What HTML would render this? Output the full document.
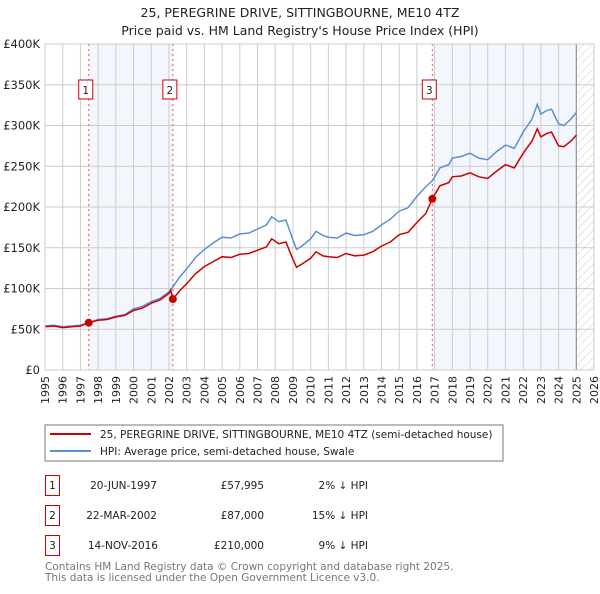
<!DOCTYPE html>
<html><head><meta charset="utf-8"><style>
body{margin:0;background:#fff;font-family:"DejaVu Sans","Liberation Sans",sans-serif;}
svg text{font-family:"DejaVu Sans","Liberation Sans",sans-serif;}
</style></head><body>
<svg width="600" height="590" viewBox="0 0 600 590" id="svg">
<defs><pattern id="hatch" width="6" height="6" patternUnits="userSpaceOnUse" patternTransform="rotate(45)"><line x1="0" y1="0" x2="0" y2="6" stroke="#ccc" stroke-width="1"/></pattern></defs>
<text x="300" y="17" text-anchor="middle" font-size="12.5" fill="#222">25, PEREGRINE DRIVE, SITTINGBOURNE, ME10 4TZ</text>
<text x="300" y="35" text-anchor="middle" font-size="12.5" fill="#222">Price paid vs. HM Land Registry's House Price Index (HPI)</text>
<g id="plot"></g>
<rect x="45" y="425" width="458" height="36" fill="#fff" stroke="#777"/>
<line x1="50" y1="434" x2="91" y2="434" stroke="#cc0000" stroke-width="2"/>
<text x="100" y="438" font-size="10.5" fill="#222">25, PEREGRINE DRIVE, SITTINGBOURNE, ME10 4TZ (semi-detached house)</text>
<line x1="50" y1="451" x2="91" y2="451" stroke="#5b8fd4" stroke-width="2"/>
<text x="100" y="455" font-size="10.5" fill="#222">HPI: Average price, semi-detached house, Swale</text>
<g font-size="10.5" fill="#222">
<rect x="45.5" y="475.5" width="14" height="20" fill="none" stroke="#cc0000"/><text x="52.5" y="489" text-anchor="middle">1</text>
<text x="157" y="489" text-anchor="end">20-JUN-1997</text><text x="264" y="489" text-anchor="end">£57,995</text><text x="368" y="489" text-anchor="end">2% ↓ HPI</text>
<rect x="45.5" y="505.5" width="14" height="20" fill="none" stroke="#cc0000"/><text x="52.5" y="519" text-anchor="middle">2</text>
<text x="157" y="519" text-anchor="end">22-MAR-2002</text><text x="264" y="519" text-anchor="end">£87,000</text><text x="368" y="519" text-anchor="end">15% ↓ HPI</text>
<rect x="45.5" y="535.5" width="14" height="20" fill="none" stroke="#cc0000"/><text x="52.5" y="549" text-anchor="middle">3</text>
<text x="158" y="549" text-anchor="end">14-NOV-2016</text><text x="264" y="549" text-anchor="end">£210,000</text><text x="368" y="549" text-anchor="end">9% ↓ HPI</text>
</g>
<text x="45" y="570" font-size="10.5" fill="#777">Contains HM Land Registry data © Crown copyright and database right 2025.</text>
<text x="45" y="581" font-size="10.5" fill="#777">This data is licensed under the Open Government Licence v3.0.</text>
</svg>
<script>
const yTicks=[0,50,100,150,200,250,300,350,400];
const yLabels=["£0","£50K","£100K","£150K","£200K","£250K","£300K","£350K","£400K"];
const years=[1995,1996,1997,1998,1999,2000,2001,2002,2003,2004,2005,2006,2007,2008,2009,2010,2011,2012,2013,2014,2015,2016,2017,2018,2019,2020,2021,2022,2023,2024,2025,2026];
const hpiT=[1995,1995.5,1996,1996.5,1997,1997.47,1998,1998.5,1999,1999.5,2000,2000.5,2001,2001.5,2002,2002.22,2002.6,2003,2003.5,2004,2004.5,2005,2005.5,2006,2006.5,2007,2007.5,2007.8,2008.2,2008.6,2009,2009.2,2009.5,2010,2010.3,2010.7,2011,2011.5,2012,2012.5,2013,2013.5,2014,2014.5,2015,2015.5,2016,2016.5,2016.87,2017.3,2017.8,2018,2018.5,2019,2019.5,2020,2020.5,2021,2021.5,2022,2022.5,2022.8,2023,2023.3,2023.6,2024,2024.3,2024.7,2025];
const hpiV=[54,55,53,54,55,58,62,63,66,68,75,78,84,88,96,102,114,124,138,148,156,163,162,167,168,173,178,188,182,184,160,148,152,161,170,165,163,162,168,165,166,170,178,185,195,199,213,225,232,248,252,260,262,266,260,258,268,276,272,292,308,326,314,318,320,302,300,308,316];
const priceT=[1995,1995.5,1996,1996.5,1997,1997.47,1998,1998.5,1999,1999.5,2000,2000.5,2001,2001.5,2002,2002.1,2002.22,2002.6,2003,2003.5,2004,2004.5,2005,2005.5,2006,2006.5,2007,2007.5,2007.8,2008.2,2008.6,2009,2009.2,2009.5,2010,2010.3,2010.7,2011,2011.5,2012,2012.5,2013,2013.5,2014,2014.5,2015,2015.5,2016,2016.5,2016.87,2017.3,2017.8,2018,2018.5,2019,2019.5,2020,2020.5,2021,2021.5,2022,2022.5,2022.8,2023,2023.3,2023.6,2024,2024.3,2024.7,2025];
const priceV=[53,54,52,53,54,58,61,62,65,67,73,76,82,86,94,98,87,97,106,118,127,133,139,138,142,143,147,151,161,155,157,136,126,130,137,145,140,139,138,143,140,141,145,152,157,166,169,181,192,210,226,230,237,238,242,237,235,244,252,248,266,281,296,286,290,292,275,274,281,288];
const sales=[{t:1997.47,v:57.995,n:"1"},{t:2002.22,v:87,n:"2"},{t:2016.87,v:210,n:"3"}];
const X0=45,X1=594,Y0=370,Y1=44;
const xs=t=>X0+(t-1995)*(X1-X0)/31;
const ys=v=>Y0-v*(Y0-Y1)/400;
const NS="http://www.w3.org/2000/svg";
const g=document.getElementById('plot');
function mk(tag,attrs,parent){const e=document.createElementNS(NS,tag);for(const k in attrs)e.setAttribute(k,attrs[k]);(parent||g).appendChild(e);return e;}
let e;
e=mk('rect',{x:xs(1997.47),y:Y1,width:xs(2002.22)-xs(1997.47),height:Y0-Y1,fill:'#eef2fc',opacity:0.7});


e=mk('rect',{x:xs(2016.87),y:Y1,width:xs(2025)-xs(2016.87),height:Y0-Y1,fill:'#eef2fc',opacity:0.7});


e=mk('rect',{x:xs(2025),y:Y1,width:X1-xs(2025),height:Y0-Y1,fill:'url(#hatch)'});


years.forEach(y=>{
 e=mk('line',{x1:xs(y),x2:xs(y),y1:Y1,y2:Y0,stroke:'#ccc','stroke-width':1});
 
 
 e=mk('text',{x:0,y:0,'font-size':11,fill:'#222','text-anchor':'end',transform:`translate(${xs(y)+4},${Y0+6}) rotate(-90)`});
 e.textContent=y;
 
 
});
yTicks.forEach((v,i)=>{
 e=mk('line',{x1:X0,x2:X1,y1:ys(v),y2:ys(v),stroke:'#ccc','stroke-width':1});
 
 
 e=mk('text',{x:40,y:ys(v)+4,'font-size':11.5,fill:'#222','text-anchor':'end'});
 e.textContent=yLabels[i];
 
 
});
e=mk('line',{x1:xs(2025),x2:xs(2025),y1:Y1,y2:Y0,stroke:'#888','stroke-width':1});


sales.forEach(s=>{
 e=mk('line',{x1:xs(s.t),x2:xs(s.t),y1:Y1,y2:Y0,stroke:'#ee5555','stroke-width':1,'stroke-dasharray':'2,3'});
 
 
});
const pts=(T,V)=>T.map((t,i)=>xs(t).toFixed(1)+','+ys(V[i]).toFixed(1)).join(' ');
e=mk('polyline',{points:pts(hpiT,hpiV),fill:'none',stroke:'#5b8fd4','stroke-width':1.5});


e=mk('polyline',{points:pts(priceT,priceV),fill:'none',stroke:'#cc0000','stroke-width':1.5});


sales.forEach(s=>{
 e=mk('circle',{cx:xs(s.t),cy:ys(s.v),r:4,fill:'#cc0000'});
 
 
 e=mk('rect',{x:xs(s.t)-10,y:80,width:14,height:19,fill:'#fff',stroke:'#cc0000'});
 
 
 e=mk('text',{x:xs(s.t)-3,y:94,'font-size':10.5,fill:'#222','text-anchor':'middle'});
 e.textContent=s.n;
 
 
});
e=mk('rect',{x:X0,y:Y1,width:X1-X0,height:Y0-Y1,fill:'none',stroke:'#ccc'});


</script>
</body></html>
